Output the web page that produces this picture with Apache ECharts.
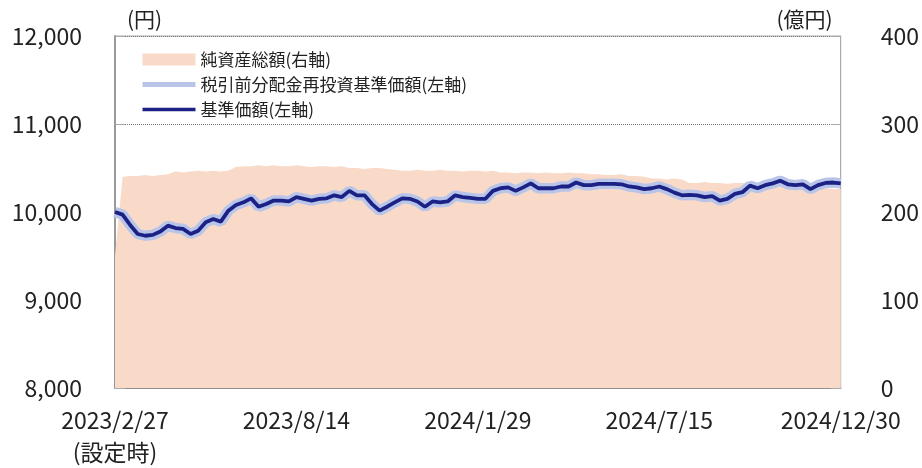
<!DOCTYPE html>
<html>
<head>
<meta charset="utf-8">
<script src="https://cdn.jsdelivr.net/npm/echarts@6/dist/echarts.min.js"></script>
<style>
html,body{margin:0;padding:0;background:#fff;}
#chart{width:922px;height:468px;}
</style>
</head>
<body>
<div id="chart"></div>
<script>
//週次の日付（2023/2/27 設定日から毎週月曜）
var startDate = new Date(2023, 1, 27);
var weekCount = 97;
var dates = [];
for(let i = 0; i < weekCount; i++){
    let d = new Date(startDate.getTime() + i * 7 * 86400000);
    dates.push(d.getFullYear() + "/" + (d.getMonth() + 1) + "/" + d.getDate());
}

//基準価額（円）
var navData = [
    10000, 9970, 9853, 9750, 9730, 9740, 9778, 9845, 9818, 9808,
    9750, 9788, 9883, 9920, 9890, 10015, 10080, 10110, 10155, 10060,
    10090, 10130, 10130, 10120, 10170, 10150, 10130, 10150, 10155, 10190,
    10170, 10240, 10190, 10190, 10090, 10015, 10060, 10110, 10155, 10150,
    10120, 10060, 10120, 10110, 10120, 10190, 10170, 10160, 10150, 10150,
    10240, 10270, 10280, 10240, 10280, 10325, 10270, 10270, 10270, 10290,
    10290, 10335, 10305, 10305, 10320, 10320, 10320, 10315, 10290, 10280,
    10260, 10270, 10290, 10260, 10220, 10190, 10195, 10190, 10170, 10180,
    10130, 10150, 10205, 10225, 10300, 10270, 10305, 10325, 10355, 10315,
    10305, 10315, 10260, 10305, 10330, 10335, 10325
];

//税引前分配金再投資基準価額（円）分配なしのため基準価額と同じ
var reinvestData = navData.slice();

//純資産総額（億円）
var assetData = [
    150, 240, 241, 241, 242, 241, 242, 243, 246, 245,
    246, 247, 246, 247, 246, 247, 251, 252, 252, 253,
    252, 253, 252, 252, 253, 252, 251, 252, 252, 251,
    252, 250, 250, 249, 250, 250, 249, 248, 247, 247,
    248, 247, 247, 248, 247, 247, 246, 247, 247, 246,
    247, 245, 245, 244, 245, 245, 244, 245, 244, 244,
    245, 244, 244, 243, 243, 242, 242, 243, 241, 241,
    240, 238, 238, 237, 238, 237, 233, 233, 234, 233,
    233, 232, 233, 233, 231, 230, 230, 229, 230, 229,
    229, 228, 228, 227, 227, 226, 226
];

var fontName = "'Noto Sans CJK JP', 'Noto Sans', sans-serif";

let chart = echarts.init(document.getElementById("chart"));
let opts = {
    animation: false,
    textStyle: { fontFamily: fontName, color: "#222" },
    grid: {
        left: 115,
        right: 80,
        top: 36,
        bottom: 78,
        show: true,
        borderColor: "#a8a8a8",
        borderWidth: 1
    },
    legend: {
        orient: "vertical",
        left: 135,
        top: 46,
        itemWidth: 53,
        itemHeight: 12,
        itemGap: 8,
        textStyle: { fontSize: 17, color: "#222", fontFamily: fontName },
        data: [
            { name: "純資産総額(右軸)", icon: "rect" },
            { name: "税引前分配金再投資基準価額(左軸)", lineStyle: { width: 5 }, itemStyle: { opacity: 0 } },
            { name: "基準価額(左軸)", lineStyle: { width: 3.5 }, itemStyle: { opacity: 0 } }
        ]
    },
    xAxis: {
        type: "category",
        data: dates,
        boundaryGap: false,
        axisLine: { lineStyle: { color: "#888", width: 1.5 } },
        axisTick: {
            show: true,
            inside: true,
            length: 12,
            interval: 23,
            lineStyle: { color: "#aaa" }
        },
        axisLabel: {
            interval: 23,
            margin: 16,
            fontSize: 23,
            lineHeight: 32,
            color: "#222",
            formatter: function(val, idx){
                if(idx == 0){
                    return val + "\n(設定時)";
                }
                return val;
            }
        },
        splitLine: { show: false }
    },
    yAxis: [
        {
            type: "value",
            min: 8000,
            max: 12000,
            interval: 1000,
            name: "(円)",
            nameGap: 6,
            nameTextStyle: { fontSize: 21, color: "#222", align: "left", padding: [0, 0, 0, 12] },
            axisLine: { show: true, lineStyle: { color: "#999", width: 2 } },
            axisTick: { show: true, inside: true, length: 10, lineStyle: { color: "#aaa" } },
            axisLabel: {
                fontSize: 23,
                margin: 33,
                color: "#222",
                formatter: function(v){ return v.toLocaleString("en-US"); }
            },
            splitLine: {
                show: true,
                lineStyle: { color: "#777", type: [1, 1], width: 1 }
            }
        },
        {
            type: "value",
            min: 0,
            max: 400,
            interval: 100,
            name: "(億円)",
            nameGap: 6,
            nameTextStyle: { fontSize: 21, color: "#222", align: "right", padding: [0, 8, 0, 0] },
            axisLine: { show: true, lineStyle: { color: "#aaa", width: 1 } },
            axisTick: { show: true, inside: true, length: 10, lineStyle: { color: "#aaa" } },
            axisLabel: { fontSize: 23, margin: 40, color: "#222" },
            splitLine: { show: false }
        }
    ],
    series: [
        {
            name: "純資産総額(右軸)",
            type: "line",
            yAxisIndex: 1,
            data: assetData,
            symbol: "none",
            lineStyle: { width: 0 },
            itemStyle: { color: "#f9dac8" },
            areaStyle: { color: "#f9dac8", opacity: 1 }
        },
        {
            name: "税引前分配金再投資基準価額(左軸)",
            type: "line",
            data: reinvestData,
            symbol: "none",
            itemStyle: { color: "#b8c5e9" },
            lineStyle: { color: "#b8c5e9", width: 10.5 }
        },
        {
            name: "基準価額(左軸)",
            type: "line",
            data: navData,
            symbol: "none",
            itemStyle: { color: "#1c2285" },
            lineStyle: { color: "#1c2285", width: 3.8 }
        }
    ]
};
chart.setOption(opts);
</script>
</body>
</html>
